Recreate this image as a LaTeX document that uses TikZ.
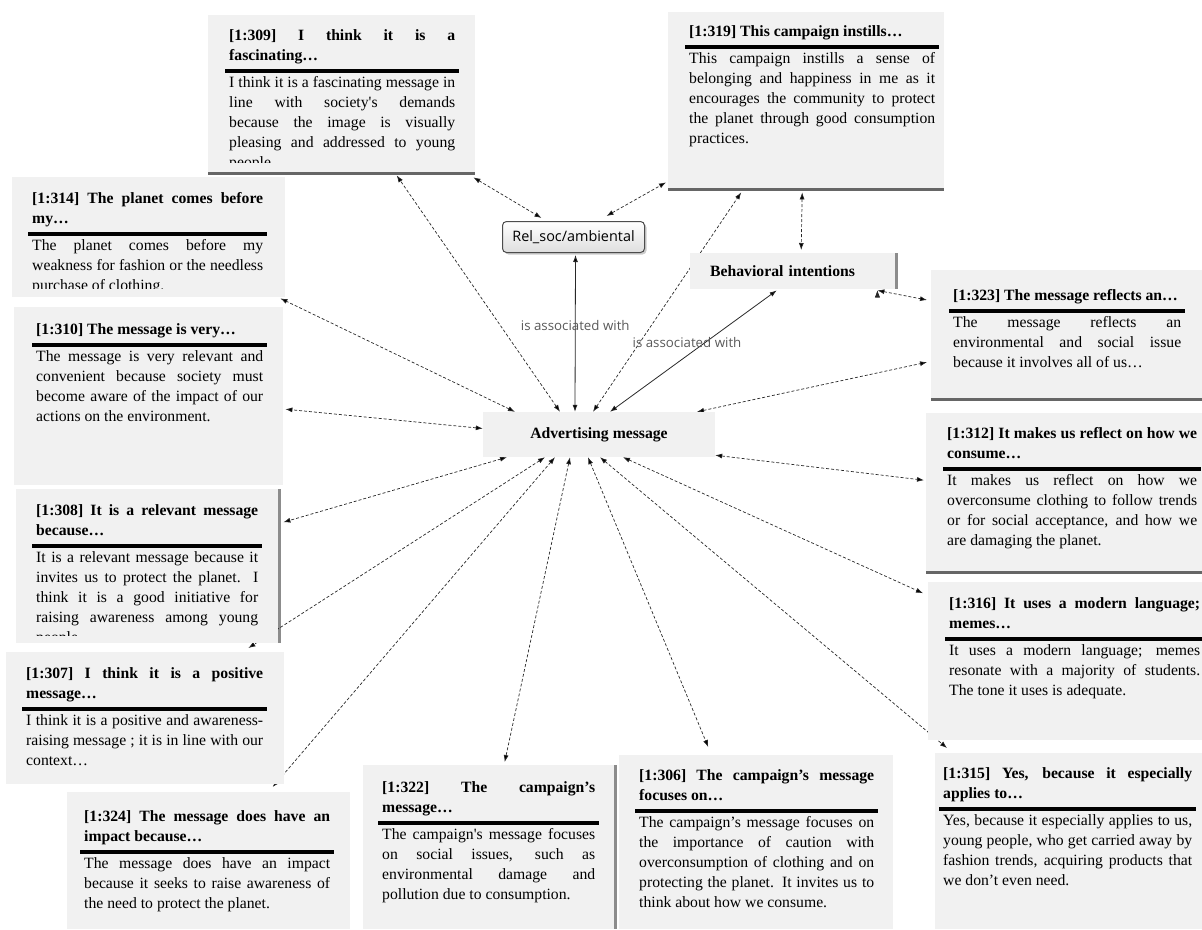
\documentclass[tikz,border=0pt]{standalone}
\usepackage{fontspec}
\setmainfont{Liberation Serif}
\newfontfamily\uifont{Open Sans}
\usepackage{tikz}
\usetikzlibrary{arrows.meta,calc,shadows,backgrounds}

\definecolor{boxgray}{RGB}{241,241,241}
\definecolor{linkgray}{RGB}{40,40,40}
\setlength{\parindent}{0pt}
\tolerance=10000 \hbadness=10000 \hfuzz=20pt
\newcommand{\qfont}{\fontsize{15.7}{20}\selectfont}
\newcommand{\qhead}[1]{{\bfseries\strut#1\strut\par}\nointerlineskip\vskip3pt
  \hbox to\hsize{\hss\vrule width\dimexpr\hsize+8pt\relax height3.5pt\hss}\nointerlineskip\vskip0.5pt}
\newcommand{\qbody}[1]{\strut#1\strut\par}

\tikzset{
  qbox/.style={fill=boxgray, inner sep=0pt, anchor=north west},
  qtext/.style={anchor=north west, inner sep=0pt, align=justify, font=\qfont},
  shade below/.style={drop shadow={shadow xshift=0pt, shadow yshift=-3pt, fill=black, opacity=0.6}},
  shade right/.style={drop shadow={shadow xshift=2.5pt, shadow yshift=0pt, fill=black, opacity=0.45}},
  link/.style={<->, draw=linkgray, line width=0.7pt, dash pattern=on 3pt off 2pt},
  assoc/.style={<->, draw=linkgray, line width=0.8pt},
  assoclabel/.style={font=\uifont\fontsize{13.3}{16}\selectfont, text=black!65, inner sep=0pt}
}

\begin{document}
\begin{tikzpicture}
      [x=1pt,y=-1pt,>={Latex[length=7pt,width=5pt]}]
      \useasboundingbox (0,0) rectangle (1202,929);

      % centre and concepts
      \node[fill=boxgray, minimum width=232pt, minimum height=45pt, inner sep=0pt, font=\qfont\bfseries] (msg) at (599,434.5) {Advertising message};
      \node[fill=boxgray, shade right, anchor=north west, text width=165pt, inner xsep=20pt, inner ysep=0pt, minimum height=36pt, font=\qfont\bfseries] (bi) at (690,253) {Behavioral intentions};
      \node[draw=black!70, line width=1pt, rounded corners=4pt, top color=white, bottom color=black!13, drop shadow={shadow xshift=2pt, shadow yshift=-2pt, opacity=0.4}, anchor=north west, minimum width=142pt, minimum height=31pt, inner sep=0pt, font=\uifont\fontsize{14.4}{17}\selectfont] (rel) at (502,221) {Rel\_soc/ambiental};

      % quotations
      \node[qbox, shade below, minimum width=267pt, minimum height=157pt] (q309) at (208,15) {};
      \begin{scope}
        \clip (q309.north west) rectangle ($(q309.south east)+(0,-10)$);
        \node[qtext, text width=226pt] (t309) at (229,26) {\qhead{[1:309] I think it is a\linebreak fascinating…}\qbody{I think it is a fascinating message in\linebreak line with society\textquotesingle s demands\linebreak because the image is visually\linebreak pleasing and addressed to young\linebreak people.}};
      \end{scope}

      \node[qbox, shade below, minimum width=276pt, minimum height=176pt] (q319) at (668,12) {};
      \node[qtext, text width=246pt] (t319) at (689,22) {\qhead{[1:319] This campaign instills…}\qbody{This campaign instills a sense of\linebreak belonging and happiness in me as it\linebreak encourages the community to protect\linebreak the planet through good consumption\linebreak practices.}};

      \node[qbox, minimum width=273pt, minimum height=120pt] (q314) at (12,177) {};
      \begin{scope}
        \clip (q314.north west) rectangle ($(q314.south east)+(0,-9)$);
        \node[qtext, text width=231pt] (t314) at (32,189) {\qhead{[1:314] The planet comes before\linebreak my…}\qbody{The planet comes before my\linebreak weakness for fashion or the needless\linebreak purchase of clothing.}};
      \end{scope}

      \node[qbox, minimum width=269pt, minimum height=178pt] (q310) at (14,307) {};
      \node[qtext, text width=227pt] (t310) at (36,320) {\qhead{[1:310] The message is very…}\qbody{The message is very relevant and\linebreak convenient because society must\linebreak become aware of the impact of our\linebreak actions on the environment.}};

      \node[qbox, shade right, minimum width=262pt, minimum height=154pt] (q308) at (16,489) {};
      \begin{scope}
        \clip (q308.north west) rectangle ($(q308.south east)+(0,-8)$);
        \node[qtext, text width=222pt] (t308) at (36,501) {\qhead{[1:308] It is a relevant message\linebreak because…}\qbody{It is a relevant message because it\linebreak invites us to protect the planet. I\linebreak think it is a good initiative for\linebreak raising awareness among young\linebreak people.}};
      \end{scope}

      \node[qbox, minimum width=278pt, minimum height=132pt] (q307) at (6,652) {};
      \node[qtext, text width=237pt] (t307) at (26,664) {\qhead{[1:307] I think it is a positive\linebreak message…}\qbody{I think it is a positive and awareness-\linebreak raising message ; it is in line with our\linebreak context…}};

      \node[qbox, minimum width=283pt, minimum height=137pt] (q324) at (67,792) {};
      \node[qtext, text width=246pt] (t324) at (84,807) {\qhead{[1:324] The message does have an\linebreak impact because…}\qbody{The message does have an impact\linebreak because it seeks to raise awareness of\linebreak the need to protect the planet.}};

      \node[qbox, shade right, minimum width=251pt, minimum height=164pt] (q322) at (363,765) {};
      \node[qtext, text width=213pt] (t322) at (382,778) {\qhead{[1:322] The campaign’s\linebreak message…}\qbody{The campaign\textquotesingle s message focuses\linebreak on social issues, such as\linebreak environmental damage and\linebreak pollution due to consumption.}};

      \node[qbox, minimum width=274pt, minimum height=174pt] (q306) at (619,755) {};
      \node[qtext, text width=235pt] (t306) at (639,766) {\qhead{[1:306] The campaign’s message\linebreak focuses on…}\qbody{The campaign’s message focuses on\linebreak the importance of caution with\linebreak overconsumption of clothing and on\linebreak protecting the planet. It invites us to\linebreak think about how we consume.}};

      \node[qbox, minimum width=267pt, minimum height=176pt] (q315) at (935,753) {};
      \node[qtext, text width=249pt] (t315) at (943,764) {\qhead{[1:315] Yes, because it especially\linebreak applies to…}\qbody{Yes, because it especially applies to us,\linebreak young people, who get carried away by\linebreak fashion trends, acquiring products that\linebreak we don’t even need.}};

      \node[qbox, minimum width=274pt, minimum height=158pt] (q316) at (928,582) {};
      \node[qtext, text width=251pt] (t316) at (949,594) {\qhead{[1:316] It uses a modern language;\linebreak memes…}\qbody{It uses a modern language; memes\linebreak resonate with a majority of students.\linebreak The tone it uses is adequate.}};

      \node[qbox, shade below, minimum width=276pt, minimum height=158pt] (q312) at (926,413) {};
      \node[qtext, text width=250pt] (t312) at (947,424) {\qhead{[1:312] It makes us reflect on how we\linebreak consume…}\qbody{It makes us reflect on how we\linebreak overconsume clothing to follow trends\linebreak or for social acceptance, and how we\linebreak are damaging the planet.}};

      \node[qbox, shade below, minimum width=271pt, minimum height=128pt] (q323) at (931,270) {};
      \node[qtext, text width=228pt] (t323) at (953,286) {\qhead{[1:323] The message reflects an…}\qbody{The message reflects an\linebreak environmental and social issue\linebreak because it involves all of us…}};

      % connectors
      \begin{scope}[on background layer]
        \path[link]
          ($(msg.north)+(-39,0)$) edge ($(q309.south)+(55,3)$)
          ($(msg.north)+(-84,0)$) edge ($(q314.south east)+(-5,1)$)
          ($(msg.west)+(0,-6)$) edge ($(q310.east)+(2,13)$)
          ($(msg.south)+(-92,0)$) edge ($(q308.east)+(5,-44)$)
          ($(msg.south)+(-54,0)$) edge ($(q307.north east)+(-36,-4)$)
          ($(msg.south)+(-44,0)$) edge ($(q324.north)+(64,-5)$)
          ($(msg.south)+(-29,0)$) edge ($(q322.north)+(16,-3)$)
          ($(msg.south)+(-11,0)$) edge ($(q306.north)+(-48,-8)$)
          ($(msg.south)+(1,0)$) edge ($(q315.north west)+(12,-5)$)
          ($(msg.south)+(24,0)$) edge ($(q316.west)+(-5,-68)$)
          ($(msg.south east)+(0,-2)$) edge ($(q312.west)+(-2,-12)$)
          ($(msg.north)+(98,0)$) edge ($(q323.west)+(-4,28)$)
          ($(msg.north)+(-6,0)$) edge ($(q319.south)+(-65,4)$)
          ($(q309.south east)+(-2,5)$) edge ($(rel.north)+(-32,-3)$)
          ($(rel.north)+(33,-5)$) edge ($(q319.south west)+(-2,-6)$)
          ($(q319.south)+(-4,4)$) edge ($(bi.north)+(8.5,-3)$)
          ($(bi.south east)+(-18,1)$) edge ($(q323.north west)+(-4,30)$);
        \path[assoc]
          ($(msg.north)+(-24,0)$) edge node[assoclabel, pos=0.55] {is associated with} ($(rel.south)+(2,2)$)
          ($(msg.north)+(11,0)$) edge node[assoclabel, pos=0.57, xshift=-18pt] {is associated with} ($(bi.south)+(-16,1)$);
      \end{scope}
\end{tikzpicture}
\end{document}
